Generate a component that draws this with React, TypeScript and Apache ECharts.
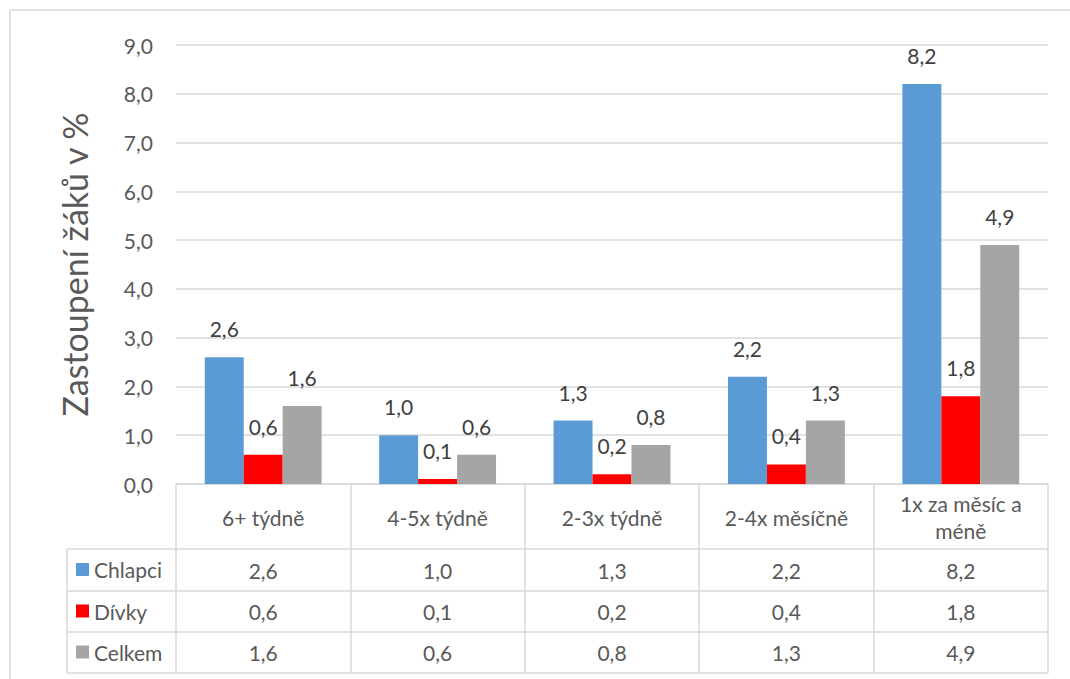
import React, { useEffect, useRef } from "react";
import * as echarts from "echarts";

const categories = ["6+ týdně", "4-5x týdně", "2-3x týdně", "2-4x měsíčně", "1x za měsíc a\nméně"];
const seriesNames = ["Chlapci", "Dívky", "Celkem"];
const chlapci = [2.6, 1.0, 1.3, 2.2, 8.2];
const divky = [0.6, 0.1, 0.2, 0.4, 1.8];
const celkem = [1.6, 0.6, 0.8, 1.3, 4.9];
const colors = ["#5B9BD5", "#FF0000", "#A5A5A5"];

const FONT = "Lato, 'Noto Sans', sans-serif";
const fmt = (v: number) => v.toFixed(1).replace(".", ",");

export default function App() {
  const ref = useRef<HTMLDivElement>(null);
  useEffect(() => {
    if (!ref.current) return;
    const chart = echarts.init(ref.current, null, { renderer: "svg" });
    const gridLeft = 176;
    const gridRight = 1048;
    const gridTop = 45;
    const gridBottom = 484;
    const rowLines = [549, 591, 632, 673];
    const rowCenters = [570, 611.5, 652.5];
    const allSeries = [chlapci, divky, celkem];
    const lineColor = "#D9D9D9";

    const valueAxes = allSeries.map((vals, i) => ({
      type: "category" as const,
      gridIndex: 0,
      position: "bottom" as const,
      offset: rowCenters[i] - gridBottom,
      data: vals.map(fmt),
      axisLine: { show: false },
      axisTick: { show: false },
      splitLine: { show: false },
      axisLabel: {
        margin: 0,
        verticalAlign: "middle" as const,
        fontFamily: FONT,
        fontSize: 21,
        color: "#595959",
        interval: 0,
      },
    }));

    const graphics: any[] = [
      {
        type: "rect",
        shape: { x: 10, y: 10, width: 1080, height: 700 },
        style: { fill: "none", stroke: lineColor, lineWidth: 1.5 },
        silent: true,
      },
      ...rowLines.map((y) => ({
        type: "line",
        shape: { x1: 67, y1: y, x2: gridRight, y2: y },
        style: { stroke: lineColor, lineWidth: 1.5 },
        silent: true,
      })),
      {
        type: "line",
        shape: { x1: 67, y1: rowLines[0], x2: 67, y2: rowLines[3] },
        style: { stroke: lineColor, lineWidth: 1.5 },
        silent: true,
      },
    ];

    chart.setOption({
      animation: false,
      backgroundColor: "#ffffff",
      color: colors,
      textStyle: { fontFamily: FONT },
      grid: {
        left: gridLeft,
        right: 1070 - gridRight,
        top: gridTop,
        bottom: 679 - gridBottom,
        containLabel: false,
      },
      legend: seriesNames.map((name, i) => ({
        data: [name],
        left: 76,
        top: rowCenters[i] - 11,
        padding: 0,
        icon: "rect",
        itemWidth: 13,
        itemHeight: 13,
        itemGap: 0,
        selectedMode: false,
        textStyle: { fontFamily: FONT, fontSize: 21, color: "#595959", padding: [0, 0, 0, 0] },
      })),
      xAxis: [
        {
          type: "category",
          gridIndex: 0,
          data: categories,
          axisLine: { show: true, lineStyle: { color: lineColor, width: 1.5 } },
          axisTick: {
            show: true,
            length: rowLines[3] - gridBottom,
            lineStyle: { color: lineColor, width: 1.5 },
          },
          axisLabel: {
            margin: 33,
            verticalAlign: "middle",
            fontFamily: FONT,
            fontSize: 21,
            lineHeight: 27,
            color: "#595959",
            interval: 0,
          },
        },
        ...valueAxes,
      ],
      yAxis: {
        type: "value",
        min: 0,
        max: 9,
        interval: 1,
        name: "Zastoupení žáků v %",
        nameLocation: "middle",
        nameGap: 85,
        nameTextStyle: { fontFamily: FONT, fontSize: 34, color: "#595959" },
        axisLine: { show: false },
        axisTick: { show: false },
        splitLine: { lineStyle: { color: lineColor, width: 1.5 } },
        axisLabel: {
          margin: 23,
          fontFamily: FONT,
          fontSize: 21,
          color: "#595959",
          formatter: (v: number) => fmt(v),
        },
      },
      series: allSeries.map((vals, i) => ({
        name: seriesNames[i],
        type: "bar",
        xAxisIndex: 0,
        yAxisIndex: 0,
        data: vals,
        barGap: "0%",
        barCategoryGap: "33%",
        itemStyle: { color: colors[i] },
        label: {
          show: true,
          position: "top",
          distance: 18,
          fontFamily: FONT,
          fontSize: 21,
          color: "#404040",
          formatter: (p: any) => fmt(p.value),
        },
      })),
      graphic: graphics,
    });
    return () => chart.dispose();
  }, []);
  return (
    <div
      ref={ref}
      style={{ position: "fixed", left: 0, top: 0, width: 1070, height: 679, background: "#fff" }}
    />
  );
}
